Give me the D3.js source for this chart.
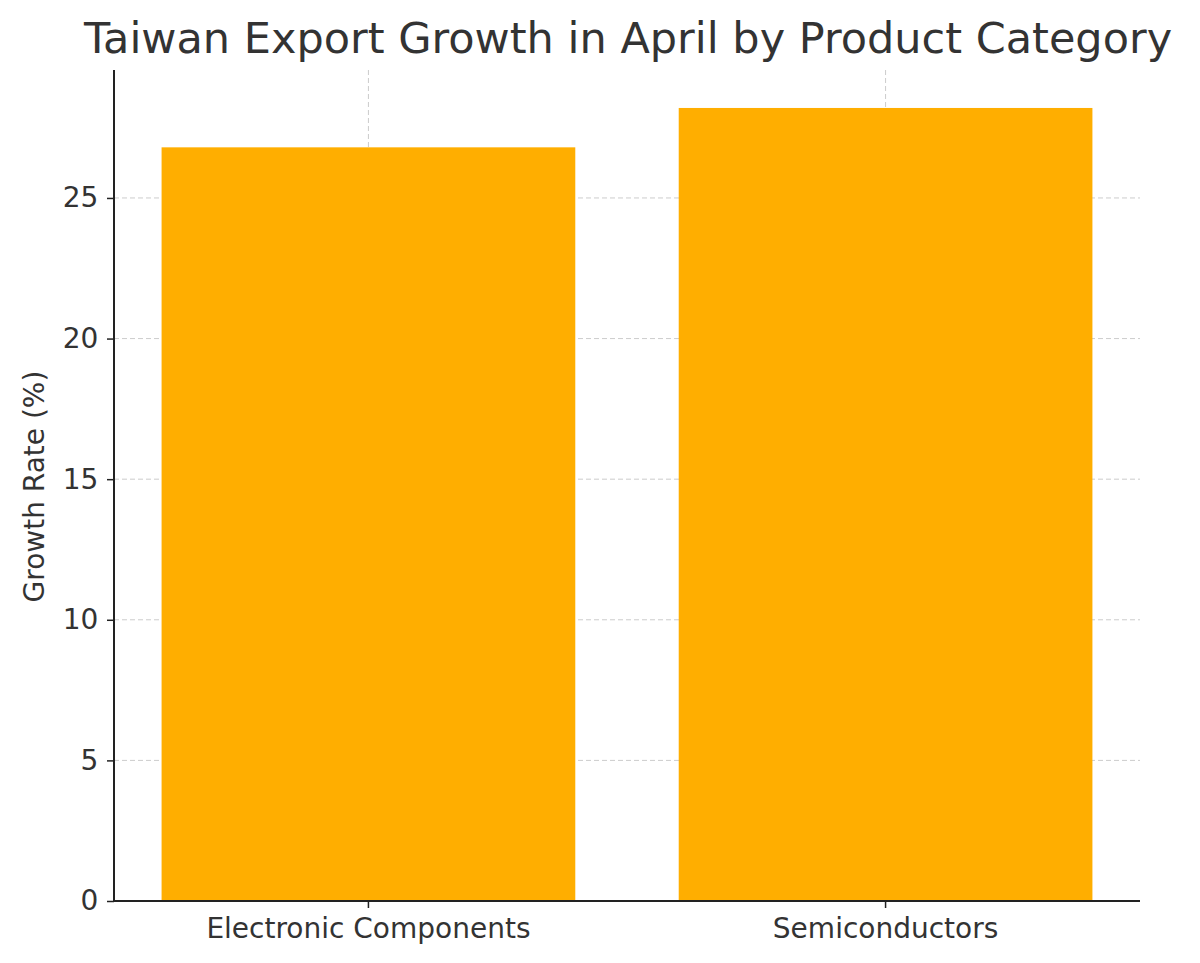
<!DOCTYPE html>
<html lang="en">
<head>
<meta charset="UTF-8">
<script src="https://d3js.org/d3.v7.min.js"></script>
<style>
  body { margin: 0; background: #fff; }
  text { font-family: "DejaVu Sans", sans-serif; fill: #333; }
</style>
</head>
<body>
<svg id="chart" width="1200" height="963"></svg>
<script>
  // data
  var categories = ["Electronic Components", "Semiconductors"];
  var growth = [26.8, 28.2];
  var yTicks = [0, 5, 10, 15, 20, 25];

  var svg = d3.select("#chart");
  var mLeft = 114, mRight = 1140, mTop = 70, mBottom = 901;

  var x = d3.scaleBand()
    .domain(categories)
    .range([mLeft, mRight])
    .paddingInner(0.2)
    .paddingOuter(0.092);

  var y = d3.scaleLinear()
    .domain([0, 29.55])
    .range([mBottom, mTop]);

  // grid
  var grid = svg.append("g").attr("stroke", "#ccc").attr("stroke-dasharray", "5,3").attr("stroke-width", 1);
  yTicks.forEach(function (t) {
    grid.append("line").attr("x1", mLeft).attr("x2", mRight).attr("y1", y(t)).attr("y2", y(t));
  });
  categories.forEach(function (c) {
    var cx = x(c) + x.bandwidth() / 2;
    grid.append("line").attr("x1", cx).attr("x2", cx).attr("y1", mTop).attr("y2", mBottom);
  });

  // bars
  svg.selectAll("rect.bar")
    .data(categories)
    .enter()
    .append("rect")
    .attr("class", "bar")
    .attr("x", function (d) { return x(d); })
    .attr("width", x.bandwidth())
    .attr("y", function (d, i) { return y(growth[i]); })
    .attr("height", function (d, i) { return mBottom - y(growth[i]); })
    .attr("fill", "#ffae00");

  // axes
  var xAxis = svg.append("g")
    .attr("transform", "translate(0," + mBottom + ")")
    .call(d3.axisBottom(x).tickSize(7).tickSizeOuter(0));
  var yAxis = svg.append("g")
    .attr("transform", "translate(" + mLeft + ",0)")
    .call(d3.axisLeft(y).tickValues(yTicks).tickSize(7).tickSizeOuter(0));

  [xAxis, yAxis].forEach(function (a) {
    a.select(".domain").attr("stroke", "#222").attr("stroke-width", 2);
    a.selectAll(".tick line").attr("stroke", "#222").attr("stroke-width", 1.5);
    a.selectAll("text").style("font-size", "28px").style("font-family", "DejaVu Sans, sans-serif").attr("fill", "#333");
  });
  xAxis.selectAll("text").attr("dy", "0.95em");
  yAxis.selectAll("text").attr("dx", "-0.2em");
  xAxis.select(".domain").attr("d", "M" + mLeft + ",0H" + mRight);
  yAxis.select(".domain").attr("d", "M0," + mBottom + "V" + mTop);

  svg.append("text")
    .attr("transform", "translate(44," + ((mTop + mBottom) / 2 + 1) + ") rotate(-90)")
    .attr("text-anchor", "middle")
    .style("font-size", "28px")
    .text("Growth Rate (%)");

  svg.append("text")
    .attr("x", 628)
    .attr("y", 53)
    .attr("text-anchor", "middle")
    .style("font-size", "43px")
    .text("Taiwan Export Growth in April by Product Category");
</script>
</body>
</html>
